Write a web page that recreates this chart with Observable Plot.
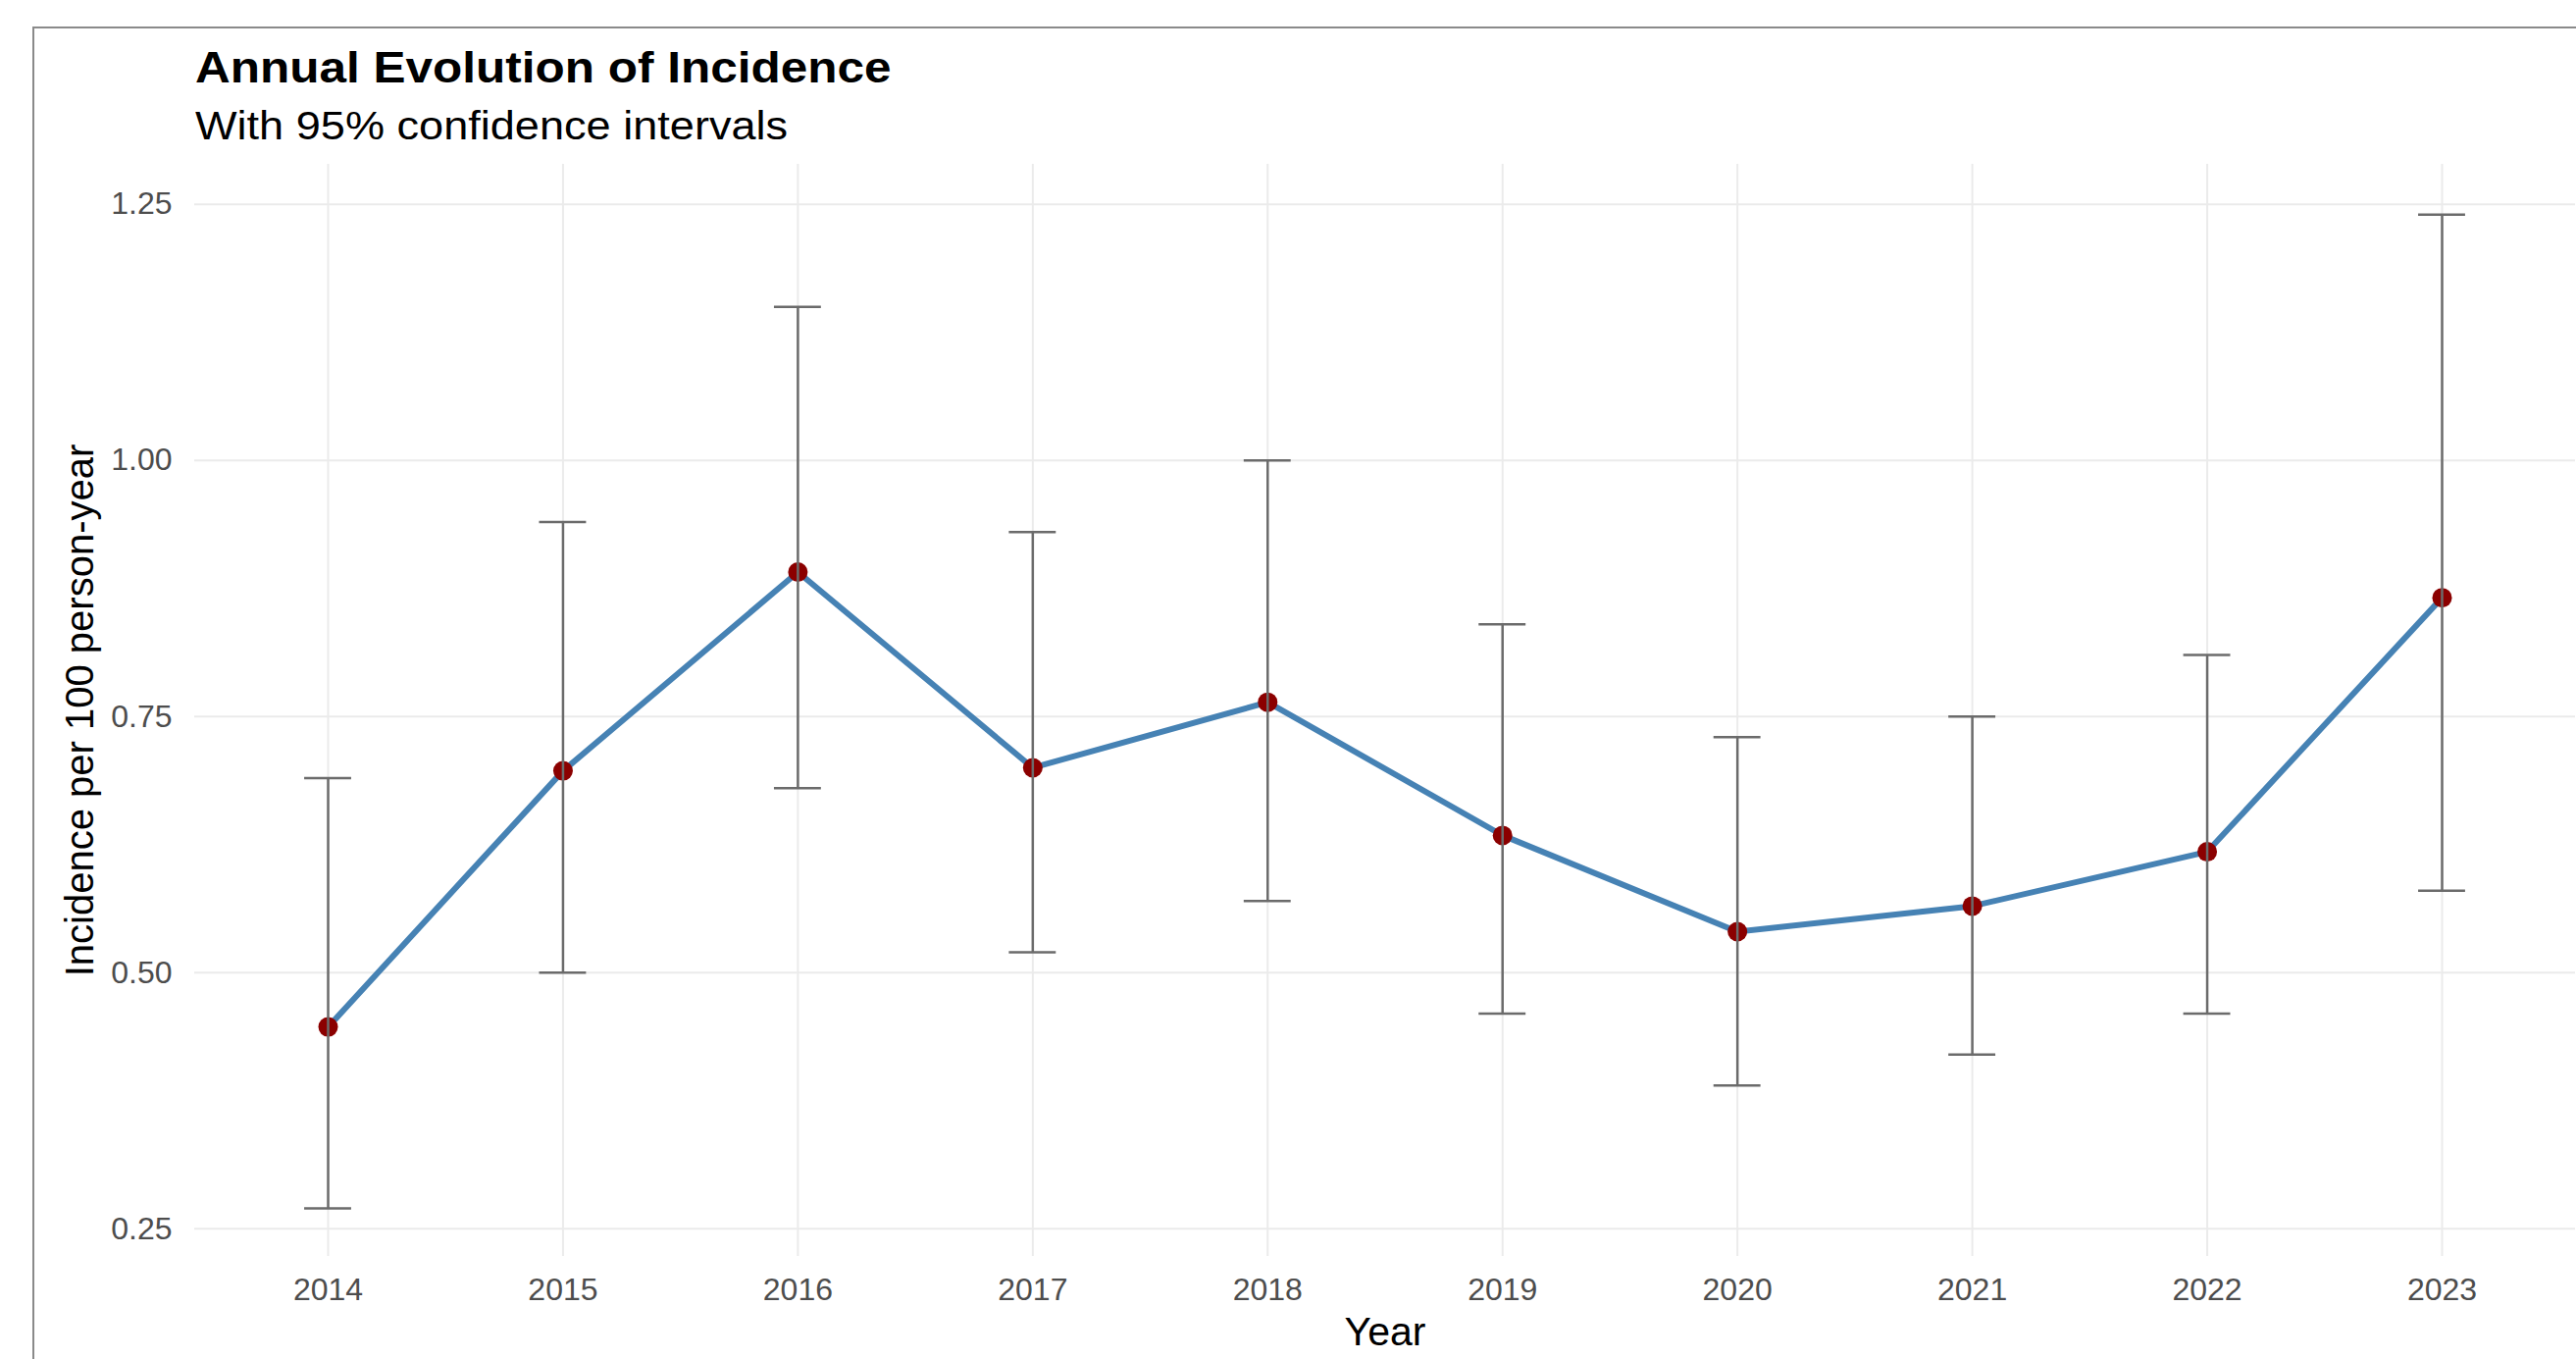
<!DOCTYPE html>
<html>
<head>
<meta charset="utf-8">
<script src="https://cdn.jsdelivr.net/npm/d3@7"></script>
<script src="https://cdn.jsdelivr.net/npm/@observablehq/plot@0.6"></script>
<style>
  html, body { margin: 0; padding: 0; background: #fff; width: 2626px; height: 1385px; overflow: hidden; position: relative; font-family: "Liberation Sans", Arial, sans-serif; }
  #frame { position: absolute; z-index: 5; pointer-events: none; left: 33px; top: 27px; width: 2700px; height: 1500px; border-left: 2px solid #8a8a8a; border-top: 2px solid #8a8a8a; box-sizing: border-box; background: transparent; }
  .ttl { position: absolute; left: 199px; white-space: nowrap; line-height: 1; transform: scaleX(1.1); transform-origin: 0 0; color: #000; }
  #title { top: 46px; font-size: 45px; font-weight: bold; }
  #subtitle { top: 108px; font-size: 41px; }
  #chart { position: absolute; left: 0; top: 150px; }
</style>
</head>
<body>
<div id="frame"></div>
<div id="title" class="ttl">Annual Evolution of Incidence</div>
<div id="subtitle" class="ttl">With 95% confidence intervals</div>
<div id="chart"></div>
<script>
const years = [2014, 2015, 2016, 2017, 2018, 2019, 2020, 2021, 2022, 2023];
const incidence = [0.447, 0.697, 0.891, 0.700, 0.764, 0.634, 0.540, 0.565, 0.618, 0.866];
const ciLower = [0.27, 0.50, 0.68, 0.52, 0.57, 0.46, 0.39, 0.42, 0.46, 0.58];
const ciUpper = [0.69, 0.94, 1.15, 0.93, 1.00, 0.84, 0.73, 0.75, 0.81, 1.24];
const yTicks = [0.25, 0.50, 0.75, 1.00, 1.25];
const yTitle = "Incidence per 100 person-year";
const xTitle = "Year";

const data = years.map((year, i) => ({year, value: incidence[i], lower: ciLower[i], upper: ciUpper[i]}));
const capHalf = 0.1;
const errColor = "#6b6b6b";

const chart = Plot.plot({
  width: 2626,
  height: 1235,
  marginLeft: 198,
  marginRight: 1,
  marginTop: 17,
  marginBottom: 105,
  style: { fontFamily: "'Liberation Sans', Arial, sans-serif", background: "transparent", overflow: "visible" },
  x: { type: "linear", domain: [2013.432, 2023.568] },
  y: { domain: [0.223, 1.289] },
  marks: [
    Plot.gridY(yTicks, { stroke: "#ebebeb", strokeOpacity: 1, strokeWidth: 2 }),
    Plot.gridX(years, { stroke: "#ebebeb", strokeOpacity: 1, strokeWidth: 2 }),
    Plot.axisY(yTicks, { tickSize: 0, tickPadding: 23, tickFormat: d3.format(".2f"), fontSize: 32, fill: "#4d4d4d", label: null }),
    Plot.axisX(years, { tickSize: 0, tickPadding: 22, tickFormat: d => String(d), fontSize: 32, fill: "#4d4d4d", label: null }),
    Plot.line(data, { x: "year", y: "value", stroke: "#4682b4", strokeWidth: 6 }),
    Plot.dot(data, { x: "year", y: "value", r: 10, fill: "#8b0000", stroke: "none" }),
    Plot.ruleX(data, { x: "year", y1: "lower", y2: "upper", stroke: errColor, strokeWidth: 2.5 }),
    Plot.ruleY(data, { y: "upper", x1: d => d.year - capHalf, x2: d => d.year + capHalf, stroke: errColor, strokeWidth: 2.5 }),
    Plot.ruleY(data, { y: "lower", x1: d => d.year - capHalf, x2: d => d.year + capHalf, stroke: errColor, strokeWidth: 2.5 }),
    Plot.text([yTitle], { frameAnchor: "left", dx: -116, rotate: -90, fontSize: 40, fill: "#000", textAnchor: "middle", lineAnchor: "middle" }),
    Plot.text([xTitle], { frameAnchor: "bottom", dy: 77, fontSize: 41, fill: "#000", textAnchor: "middle", lineAnchor: "middle" })
  ]
});
document.getElementById("chart").appendChild(chart);
</script>
</body>
</html>
